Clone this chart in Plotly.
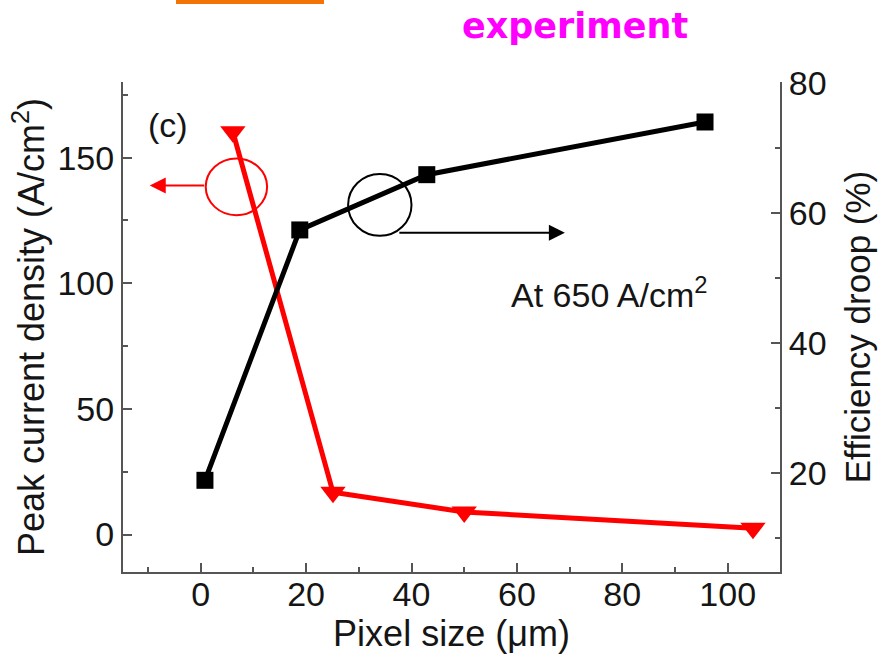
import plotly.graph_objects as go

# Efficiency droop at 650 A/cm^2 (right axis)
droop_pixel = [0.8, 18.8, 42.9, 95.7]
droop_pct = [18.9, 57.4, 65.9, 74.0]

# Peak current density (left axis)
peak_pixel = [6.1, 25.1, 50.0, 104.8]
peak_density = [160.3, 16.8, 9.0, 2.5]

x_ticks = [0, 20, 40, 60, 80, 100]
y_ticks = [0, 50, 100, 150]
y2_ticks = [20, 40, 60, 80]

FONT = "Liberation Sans, Arial, sans-serif"
AXC = "#555555"
TXT = "#151515"

# plot-area edges in pixels, used to place paper-referenced items
PL, PR, PT, PB = 123, 780, 82, 572


def px_to_paper(px, py):
    return (px - PL) / (PR - PL), (PB - py) / (PB - PT)


fig = go.Figure()

fig.add_trace(go.Scatter(
    x=peak_pixel, y=peak_density, mode="lines+markers",
    line=dict(color="#ff0000", width=5),
    marker=dict(symbol="triangle-down", size=22, color="#ff0000"),
    yaxis="y", showlegend=False, hoverinfo="x+y"))

fig.add_trace(go.Scatter(
    x=droop_pixel, y=droop_pct, mode="lines+markers",
    line=dict(color="#000000", width=5),
    marker=dict(symbol="square", size=17, color="#000000"),
    yaxis="y2", showlegend=False, hoverinfo="x+y"))

tickfont = dict(family=FONT, size=34, color=TXT)
minor_common = dict(ticks="inside", ticklen=5, tickwidth=2, tickcolor=AXC,
                    showgrid=False)
axis_common = dict(ticks="inside", ticklen=9, tickwidth=2, tickcolor=AXC,
                   showline=True, linecolor=AXC, linewidth=2, showgrid=False,
                   zeroline=False, automargin=False)

fig.update_layout(
    width=884, height=655,
    margin=dict(l=PL, r=884 - PR, t=PT, b=655 - PB, autoexpand=False),
    paper_bgcolor="white", plot_bgcolor="white",
    xaxis=dict(
        range=[-14.75, 109.93], tickvals=x_ticks, tickfont=tickfont,
        ticklabelstandoff=-9,
        minor=dict(dtick=10, tick0=0, **minor_common),
        title=dict(text="Pixel size (\u03bcm)",
                   font=dict(family=FONT, size=36, color=TXT), standoff=6),
        **axis_common,
    ),
    xaxis3=dict(
        range=[-9.90, 120.14], overlaying="x", side="top", anchor="y",
        dtick=20, tick0=0, showticklabels=False,
        minor=dict(dtick=10, tick0=0, **minor_common),
        **axis_common,
    ),
    yaxis=dict(
        range=[-14.9, 180.1], tickvals=y_ticks, tickfont=tickfont,
        minor=dict(dtick=25, tick0=0, **minor_common),
        title=dict(text="Peak current density (A/cm<sup>2</sup>)",
                   font=dict(family=FONT, size=36, color=TXT), standoff=2),
        **axis_common,
    ),
    yaxis2=dict(
        range=[4.8, 80.15], tickvals=y2_ticks, overlaying="y", side="right",
        tickfont=tickfont,
        minor=dict(dtick=10, tick0=0, **minor_common),
        title=dict(text="Efficiency droop (%)",
                   font=dict(family=FONT, size=35, color=TXT), standoff=20),
        **axis_common,
    ),
)

# series indicator circles
fig.add_shape(type="circle", xref="x", yref="y", x0=0.95, x1=12.6,
              y0=127.1, y1=149.7, line=dict(color="#ff0000", width=2))
fig.add_shape(type="circle", xref="x", yref="y", x0=27.97, x1=40.0,
              y0=118.9, y1=143.5, line=dict(color="#000000", width=2))

# arrows pointing to the matching axis
fig.add_annotation(x=-9.68, y=138.9, xref="x", yref="y", text="",
                   showarrow=True, ax=56, ay=0, axref="pixel", ayref="pixel",
                   arrowhead=2, arrowsize=1.6, arrowwidth=2,
                   arrowcolor="#ff0000", standoff=0, startstandoff=0)
fig.add_annotation(x=69.1, y=120.1, xref="x", yref="y", text="",
                   showarrow=True, ax=-167, ay=0, axref="pixel", ayref="pixel",
                   arrowhead=2, arrowsize=1.6, arrowwidth=2,
                   arrowcolor="#000000", standoff=0, startstandoff=0)

fig.add_annotation(x=-6.2, y=163.0, xref="x", yref="y", text="(c)",
                   showarrow=False, font=dict(family=FONT, size=34, color=TXT))
fig.add_annotation(x=58.5, y=96.5, xref="x", yref="y", xanchor="left",
                   text="At 650 A/cm<sup>2</sup>", showarrow=False,
                   font=dict(family=FONT, size=34, color=TXT))

# header label and orange strip
hx, hy = px_to_paper(575, 26)
fig.add_annotation(x=hx, y=hy, xref="paper", yref="paper",
                   xanchor="center", yanchor="middle",
                   text="<b>experiment</b>", showarrow=False,
                   font=dict(family="DejaVu Sans, sans-serif", size=35,
                             color="#ff00ff"))
rx0, ry0 = px_to_paper(176, 4)
rx1, ry1 = px_to_paper(324, 0)
fig.add_shape(type="rect", xref="paper", yref="paper",
              x0=rx0, x1=rx1, y0=ry0, y1=ry1,
              line=dict(width=0), fillcolor="#f27405")

fig.write_html("out.html")
